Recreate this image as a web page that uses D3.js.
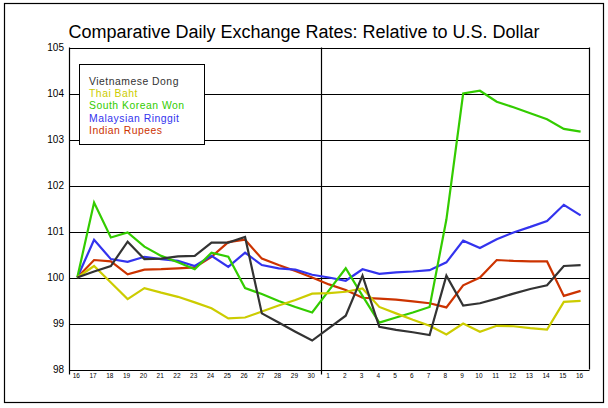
<!DOCTYPE html>
<html>
<head>
<meta charset="utf-8">
<script src="https://cdn.jsdelivr.net/npm/d3@7"></script>
<style>
  body { margin: 0; background: #fff; }
  svg { display: block; font-family: "Liberation Sans", Arial, sans-serif; }
</style>
</head>
<body>
<svg id="chart" width="608" height="408"></svg>
<script>
// day labels (Sep 16 .. Oct 16)
const days = ['16','17','18','19','20','21','22','23','24','25','26','27','28','29','30',
              '1','2','3','4','5','6','7','8','9','10','11','12','13','14','15','16'];
const yTicks = [98, 99, 100, 101, 102, 103, 104, 105];

const seriesNames = ['Vietnamese Dong', 'Thai Baht', 'South Korean Won', 'Malaysian Ringgit', 'Indian Rupees'];
const colors = ['#333333', '#cccc00', '#33cc00', '#3333ee', '#cc3300'];

const dong = [100, 100.13, 100.25, 100.78, 100.40, 100.41, 100.46, 100.47, 100.76, 100.76, 100.88,
              99.22, 99.02, 98.82, 98.63, 98.90, 99.17, 100.04, 98.93, 98.86, 98.81, 98.75,
              100.04, 99.39, 99.44, 99.54, 99.65, 99.75, 99.83, 100.25, 100.27];
const baht = [100, 100.25, 99.89, 99.53, 99.77, 99.67, 99.58, 99.46, 99.33, 99.11, 99.13,
              99.26, 99.39, 99.51, 99.65, 99.66, 99.69, 99.76, 99.36, 99.22, 99.08, 98.95,
              98.76, 99.00, 98.82, 98.95, 98.94, 98.90, 98.87, 99.47, 99.49];
const won = [100, 101.63, 100.87, 100.98, 100.67, 100.47, 100.33, 100.18, 100.54, 100.45, 99.77,
             99.64, 99.49, 99.36, 99.24, 99.72, 100.20, 99.60, 99.02, 99.13, 99.24, 99.36,
             101.26, 104.00, 104.06, 103.82, 103.70, 103.57, 103.44, 103.23, 103.17];
const ringgit = [100, 100.82, 100.40, 100.34, 100.45, 100.40, 100.36, 100.25, 100.47, 100.23, 100.54,
                 100.27, 100.20, 100.17, 100.06, 100.00, 99.93, 100.18, 100.08, 100.11, 100.13, 100.16,
                 100.33, 100.80, 100.64, 100.83, 100.98, 101.10, 101.23, 101.58, 101.35];
const rupee = [100, 100.38, 100.35, 100.07, 100.17, 100.18, 100.20, 100.22, 100.45, 100.77, 100.82,
               100.41, 100.27, 100.14, 100.0, 99.85, 99.73, 99.56, 99.54, 99.52, 99.48, 99.44,
               99.35, 99.83, 100.0, 100.38, 100.36, 100.35, 100.35, 99.60, 99.71];

const allSeries = [dong, baht, won, ringgit, rupee];

const svg = d3.select('#chart');

// plot box
const plotLeft = 69.5, plotRight = 589.5, plotTop = 47.5, plotBottom = 369.5;

const x = d3.scaleLinear().domain([0, days.length - 1]).range([77.3, 580.6]);
const y = d3.scaleLinear().domain([98, 105]).range([plotBottom, plotTop]);

// outer frame
svg.append('rect')
    .attr('x', 4.5).attr('y', 3.5)
    .attr('width', 599).attr('height', 399)
    .attr('fill', 'none').attr('stroke', '#000').attr('stroke-width', 1.2);

// title
svg.append('text')
    .attr('x', 304).attr('y', 38)
    .attr('text-anchor', 'middle')
    .attr('font-size', 18)
    .attr('fill', '#000')
    .text('Comparative Daily Exchange Rates: Relative to U.S. Dollar');

// gridlines
svg.append('g').selectAll('line')
    .data(yTicks)
    .join('line')
    .attr('x1', plotLeft).attr('x2', plotRight)
    .attr('y1', d => Math.round(y(d)) + 0.5).attr('y2', d => Math.round(y(d)) + 0.5)
    .attr('stroke', '#000').attr('stroke-width', 1.2);

// y labels
svg.append('g').selectAll('text')
    .data(yTicks)
    .join('text')
    .attr('x', 64).attr('y', d => y(d) + 3.5)
    .attr('text-anchor', 'end')
    .attr('font-size', 10)
    .attr('fill', '#000')
    .text(d => d);

// verticals: left axis, month divider, right edge
const divX = Math.round(x(14.5)) + 0.5;
svg.append('line').attr('x1', plotLeft).attr('x2', plotLeft).attr('y1', plotTop).attr('y2', plotBottom + 5)
    .attr('stroke', '#000').attr('stroke-width', 1.2);
svg.append('line').attr('x1', divX).attr('x2', divX).attr('y1', plotTop).attr('y2', plotBottom + 5)
    .attr('stroke', '#000').attr('stroke-width', 1.2);
svg.append('line').attr('x1', plotRight).attr('x2', plotRight).attr('y1', plotTop).attr('y2', plotBottom)
    .attr('stroke', '#000').attr('stroke-width', 1.2);

// x labels
svg.append('g').selectAll('text')
    .data(days)
    .join('text')
    .attr('x', (d, i) => x(i) - 1)
    .attr('y', 378)
    .attr('text-anchor', 'middle')
    .attr('font-size', 6.5)
    .attr('fill', '#000')
    .text(d => d);

// lines (black drawn last, on top)
const line = d3.line()
    .x((d, i) => x(i))
    .y(d => y(d));

const order = [4, 3, 2, 1, 0];
svg.append('g').selectAll('path')
    .data(order)
    .join('path')
    .attr('d', k => line(allSeries[k]))
    .attr('fill', 'none')
    .attr('stroke', k => colors[k])
    .attr('stroke-width', 2.2);

// legend
svg.append('rect')
    .attr('x', 79.5).attr('y', 64.5)
    .attr('width', 125).attr('height', 80)
    .attr('fill', '#fff').attr('stroke', '#000').attr('stroke-width', 1);

svg.append('g').selectAll('text')
    .data(seriesNames)
    .join('text')
    .attr('x', 89)
    .attr('y', (d, i) => 85 + i * 12.2)
    .attr('font-size', 10.4)
    .attr('letter-spacing', 0.5)
    .attr('fill', (d, i) => colors[i])
    .text(d => d);
</script>
</body>
</html>
